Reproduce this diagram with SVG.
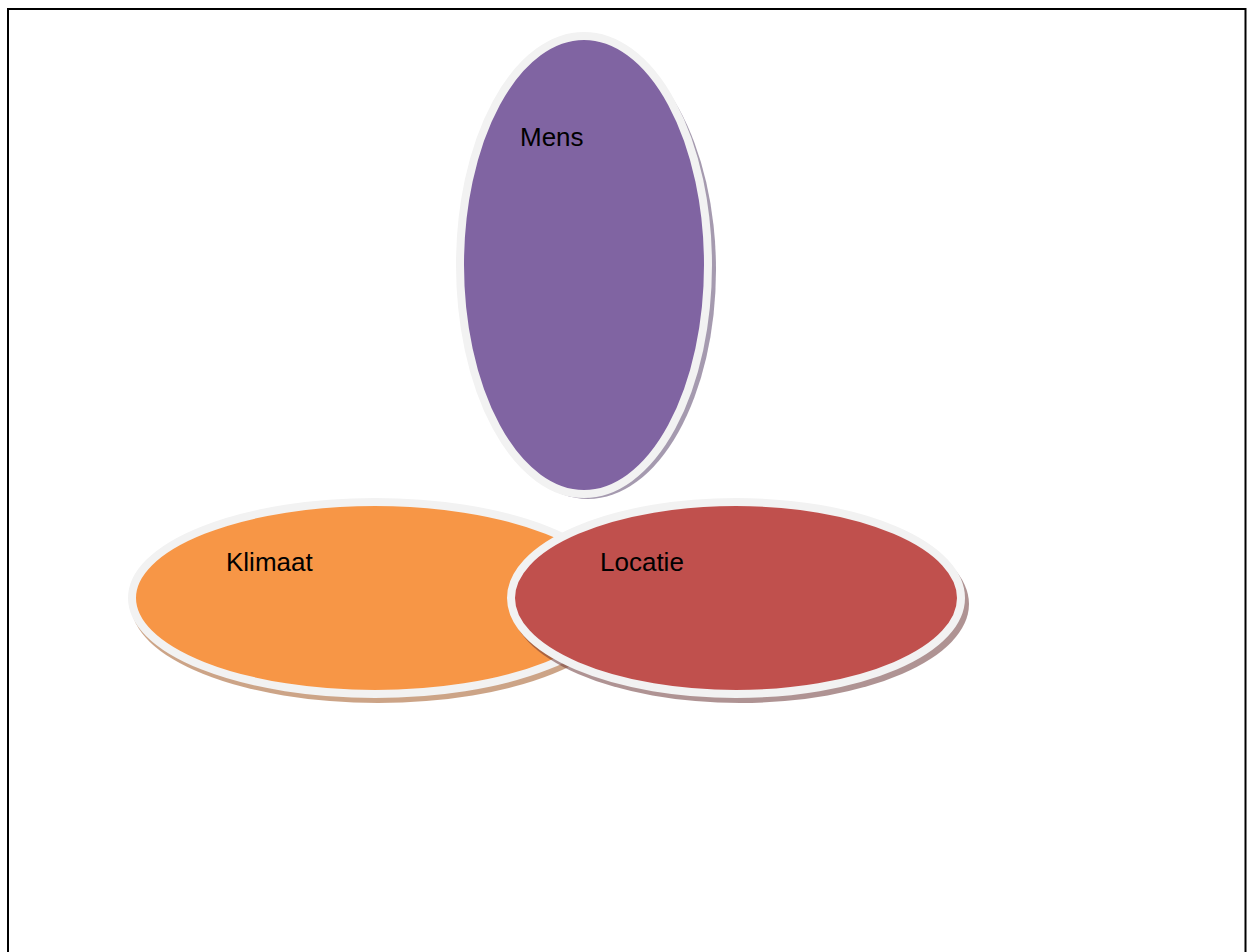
<svg xmlns="http://www.w3.org/2000/svg" width="1247" height="952" viewBox="0 0 1247 952">
<style>
.ring{stroke:#F2F2F2;stroke-width:8}
.lbl{font-family:"Liberation Sans","DejaVu Sans",sans-serif;font-size:26px;fill:#000}
</style>
<rect width="1247" height="952" fill="#fff"/>
<path d="M8,952 V9 H1245.5 V952" fill="none" stroke="#000" stroke-width="2"/>
<g id="mens">
<ellipse cx="588" cy="270" rx="128" ry="229" fill="#4B3560" fill-opacity="0.5"/>
<ellipse class="ring" cx="584" cy="265" rx="124" ry="229" fill="#8064A2"/>
<text class="lbl" x="520" y="146">Mens</text>
</g>
<g id="klimaat">
<ellipse cx="378" cy="604" rx="247" ry="99" fill="#9A4A10" fill-opacity="0.5"/>
<ellipse class="ring" cx="375" cy="598" rx="243" ry="96" fill="#F79646"/>
<text class="lbl" x="226" y="571">Klimaat</text>
</g>
<g id="locatie">
<ellipse cx="740" cy="604" rx="229" ry="99" fill="#6E3B3B" fill-opacity="0.55"/>
<ellipse class="ring" cx="736" cy="598" rx="225" ry="96" fill="#C0504D"/>
<text class="lbl" x="600" y="571">Locatie</text>
</g>
<g id="connectors"/>
</svg>
